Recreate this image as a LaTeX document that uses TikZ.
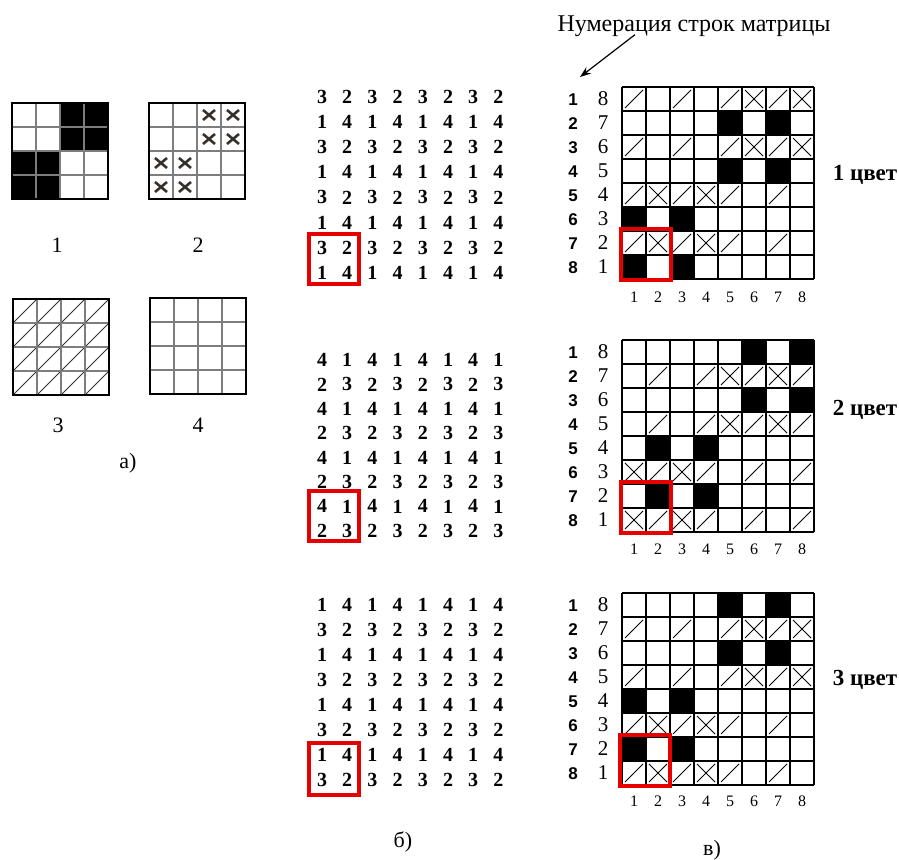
\documentclass[tikz,border=0pt]{standalone}
\usepackage{fontspec}
\setmainfont{Liberation Serif}
\setsansfont{Liberation Sans}
\usepackage{tikz}
\usetikzlibrary{arrows.meta}
\usepackage{xcolor}
\definecolor{myred}{RGB}{230,0,0}
\definecolor{mygray}{RGB}{125,125,125}
\definecolor{mymark}{RGB}{55,50,45}

\tikzset{
  digit/.style={font=\fontsize{20}{22}\selectfont\bfseries, inner sep=0pt},
  rowlab/.style={font=\sffamily\bfseries\fontsize{17}{19}\selectfont, inner sep=0pt},
  rownum/.style={font=\fontsize{21}{23}\selectfont, inner sep=0pt},
  collab/.style={font=\fontsize{16}{18}\selectfont, inner sep=0pt},
  colorlab/.style={font=\fontsize{23}{25}\selectfont\bfseries, inner sep=0pt},
  figlab/.style={font=\fontsize{22}{24}\selectfont, inner sep=0pt},
  cellline/.style={line width=1.6pt},
  thingrid/.style={line width=1.6pt, mygray},
  frame/.style={line width=2.4pt},
  hatch/.style={line width=0.9pt},
  xmark/.style={line width=2.6pt, mymark},
  redbox/.style={line width=4pt, myred}
}

\begin{document}
\begin{tikzpicture}[x=1pt,y=-1pt]
  \useasboundingbox (0,0) rectangle (899,859);

  % a) elementary patterns
  \begin{scope}[shift={(12,103)}]
    \fill (48,0) rectangle (96,48);
    \fill (0,48) rectangle (48,96);
    \foreach \i in {1,2,3} {
      \draw[thingrid] (24*\i,0) -- (24*\i,96);
      \draw[thingrid] (0,24*\i) -- (96,24*\i);
    }
    \draw[frame] (0,0) rectangle (96,96);
  \end{scope}
  \begin{scope}[shift={(149,103)}]
    \foreach \c/\r in {3/1,4/1,3/2,4/2,1/3,2/3,1/4,2/4}
      \draw[xmark] ({24*\c-18},{24*\r-17}) -- ++(12,10) ({24*\c-6},{24*\r-17}) -- ++(-12,10);
    \foreach \i in {1,2,3} {
      \draw[thingrid] (24*\i,0) -- (24*\i,96);
      \draw[thingrid] (0,24*\i) -- (96,24*\i);
    }
    \draw[frame] (0,0) rectangle (96,96);
  \end{scope}
  \begin{scope}[shift={(13,299)}]
    \foreach \c in {1,...,4}
      \foreach \r in {1,...,4}
        \draw[hatch, mymark] ({24*\c-24},{24*\r}) -- ++(24,-24);
    \foreach \i in {1,2,3} {
      \draw[thingrid] (24*\i,0) -- (24*\i,96);
      \draw[thingrid] (0,24*\i) -- (96,24*\i);
    }
    \draw[frame] (0,0) rectangle (96,96);
  \end{scope}
  \begin{scope}[shift={(150,298)}]
    \foreach \i in {1,2,3} {
      \draw[thingrid] (24*\i,0) -- (24*\i,96);
      \draw[thingrid] (0,24*\i) -- (96,24*\i);
    }
    \draw[frame] (0,0) rectangle (96,96);
  \end{scope}
  \node[figlab] (pa1) at (57,245) {1};
  \node[figlab] (pa2) at (198,245) {2};
  \node[figlab] (pa3) at (58,425) {3};
  \node[figlab] (pa4) at (198,425) {4};
  \node[figlab] (capa) at (128,463) {а)};

  % b) number matrices
  \foreach \r in {1,...,8} {
    \ifodd\r \def\row{3,2,3,2,3,2,3,2}\else \def\row{1,4,1,4,1,4,1,4}\fi
    \foreach \d [count=\c] in \row
      \node[digit] (ma\r\c) at ({322+25.2*(\c-1)},{97+25.1*(\r-1)}) {\d};
  }
  \draw[redbox] (309,234) rectangle (359,284);

  \foreach \r in {1,...,8} {
    \ifodd\r \def\row{4,1,4,1,4,1,4,1}\else \def\row{2,3,2,3,2,3,2,3}\fi
    \foreach \d [count=\c] in \row
      \node[digit] (mb\r\c) at ({322+25.2*(\c-1)},{360+24.4*(\r-1)}) {\d};
  }
  \draw[redbox] (309,491) rectangle (359,541);

  \foreach \r in {1,...,8} {
    \ifodd\r \def\row{1,4,1,4,1,4,1,4}\else \def\row{3,2,3,2,3,2,3,2}\fi
    \foreach \d [count=\c] in \row
      \node[digit] (mc\r\c) at ({322+25.2*(\c-1)},{605+25*(\r-1)}) {\d};
  }
  \draw[redbox] (309,743) rectangle (359,795);
  \node[figlab] (capb) at (403,842) {б)};

  % c) colour layers
  \node[figlab, font=\fontsize{24}{26}\selectfont] (numtitle) at (694,26) {Нумерация строк матрицы};
  \coordinate (numtip) at (580,77);
  \draw[-{Stealth[length=11pt,width=8pt]}, line width=1.2pt] ([xshift=-59pt,yshift=2pt]numtitle.south) -- (numtip);

  % 1 цвет
  \begin{scope}[shift={(622,87)}]
    \foreach \c/\r in {5/2,7/2,5/4,7/4,1/6,3/6,1/8,3/8}
      \fill ({24*\c-24},{24*\r-24}) rectangle ++(24,24);
    \foreach \c/\r in {1/1,3/1,5/1,7/1,1/3,3/3,5/3,7/3,1/5,3/5,5/5,7/5,1/7,3/7,5/7,7/7}
      \draw[hatch] ({24*\c-21},{24*\r-3}) -- ++(18,-18);
    \foreach \c/\r in {6/1,8/1,6/3,8/3,2/5,4/5,2/7,4/7}
      \draw[hatch] ({24*\c-21},{24*\r-3}) -- ++(18,-18) ({24*\c-21},{24*\r-21}) -- ++(18,18);
    \foreach \i in {0,...,8} {
      \draw[cellline] (24*\i,0) -- (24*\i,192);
      \draw[cellline] (0,24*\i) -- (192,24*\i);
    }
    \draw[redbox] (-1,142) rectangle (49,193);
    \foreach \r in {1,...,8} {
      \pgfmathtruncatemacro\k{9-\r}
      \node[rowlab] (ga\r) at (-49,24*\r-11) {\r};
      \node[rownum] (gan\r) at (-19,24*\r-12) {\k};
      \node[collab] (gac\r) at (24*\r-12,210) {\r};
    }
  \end{scope}
  \node[colorlab] (cola) at (865,175) {1 цвет};

  % 2 цвет
  \begin{scope}[shift={(622,340)}]
    \foreach \c/\r in {6/1,8/1,6/3,8/3,2/5,4/5,2/7,4/7}
      \fill ({24*\c-24},{24*\r-24}) rectangle ++(24,24);
    \foreach \c/\r in {2/2,4/2,6/2,8/2,2/4,4/4,6/4,8/4,2/6,4/6,6/6,8/6,2/8,4/8,6/8,8/8}
      \draw[hatch] ({24*\c-21},{24*\r-3}) -- ++(18,-18);
    \foreach \c/\r in {5/2,7/2,5/4,7/4,1/6,3/6,1/8,3/8}
      \draw[hatch] ({24*\c-21},{24*\r-3}) -- ++(18,-18) ({24*\c-21},{24*\r-21}) -- ++(18,18);
    \foreach \i in {0,...,8} {
      \draw[cellline] (24*\i,0) -- (24*\i,192);
      \draw[cellline] (0,24*\i) -- (192,24*\i);
    }
    \draw[redbox] (-1,142) rectangle (49,193);
    \foreach \r in {1,...,8} {
      \pgfmathtruncatemacro\k{9-\r}
      \node[rowlab] (gb\r) at (-49,24*\r-11) {\r};
      \node[rownum] (gbn\r) at (-19,24*\r-12) {\k};
      \node[collab] (gbc\r) at (24*\r-12,209) {\r};
    }
  \end{scope}
  \node[colorlab] (colb) at (865,410) {2 цвет};

  % 3 цвет
  \begin{scope}[shift={(622,593)}]
    \foreach \c/\r in {5/1,7/1,5/3,7/3,1/5,3/5,1/7,3/7}
      \fill ({24*\c-24},{24*\r-24}) rectangle ++(24,24);
    \foreach \c/\r in {1/2,3/2,5/2,7/2,1/4,3/4,5/4,7/4,1/6,3/6,5/6,7/6,1/8,3/8,5/8,7/8}
      \draw[hatch] ({24*\c-21},{24*\r-3}) -- ++(18,-18);
    \foreach \c/\r in {6/2,8/2,6/4,8/4,2/6,4/6,2/8,4/8}
      \draw[hatch] ({24*\c-21},{24*\r-3}) -- ++(18,-18) ({24*\c-21},{24*\r-21}) -- ++(18,18);
    \foreach \i in {0,...,8} {
      \draw[cellline] (24*\i,0) -- (24*\i,192);
      \draw[cellline] (0,24*\i) -- (192,24*\i);
    }
    \draw[redbox] (-2,142) rectangle (48,193);
    \foreach \r in {1,...,8} {
      \pgfmathtruncatemacro\k{9-\r}
      \node[rowlab] (gc\r) at (-49,24*\r-11) {\r};
      \node[rownum] (gcn\r) at (-19,24*\r-12) {\k};
      \node[collab] (gcc\r) at (24*\r-12,208) {\r};
    }
  \end{scope}
  \node[colorlab] (colc) at (865,680) {3 цвет};
  \node[figlab] (capc) at (712,850) {в)};
\end{tikzpicture}
\end{document}
